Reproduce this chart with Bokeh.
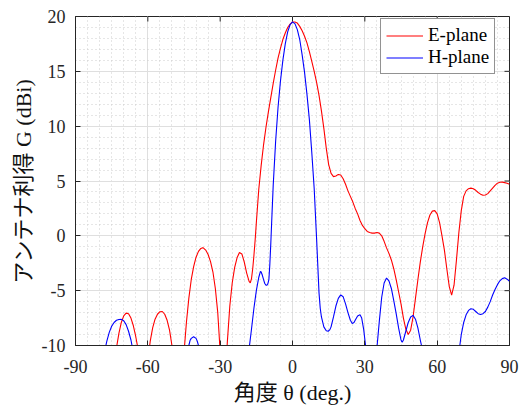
from math import pi
from bokeh.plotting import figure
from bokeh.models import ColumnDataSource, FixedTicker, Legend, LegendItem, Range1d
from bokeh.embed import file_html
from bokeh.resources import INLINE

# ---------------- data ----------------
E_ANGLE = [-90, -84, -78, -74, -73, -72, -71, -70, -69, -68, -67, -66, -65, -64, -63, -61,
           -59.8, -59, -58, -57, -56, -55, -54, -53, -52, -51, -50, -49, -47,
           -45.5, -44.5, -44, -43, -42, -41, -40, -39, -38, -37.3, -37, -36, -35, -34, -33,
           -32, -31, -30.3, -29.8, -28.5, -27.5, -27, -26, -25, -24, -23, -22, -21, -20,
           -19, -18, -17.5, -17, -16.5, -16, -15.5, -15, -14, -13, -12, -11, -10, -9, -8,
           -7, -6, -5, -4, -3, -2, -1, 0, 1, 2, 3, 4, 5, 6, 7, 8, 9, 10, 11, 12, 13, 14, 15,
           16, 17, 18, 19, 20, 21, 22, 23, 24, 25, 26, 27, 28, 29, 30, 31, 32, 33, 34, 35,
           36, 37, 38, 39, 40, 41, 42, 43, 44, 45, 46, 47, 48, 49, 50, 51, 52, 53, 54, 55,
           56, 57, 58, 59, 60, 61, 62, 63, 64, 65, 66, 67, 68, 69, 70, 71, 72, 73, 74, 75,
           76, 77, 78, 79, 80, 81, 82, 83, 84, 85, 86, 87, 88, 89, 90]
E_GAIN = [-22, -18, -14, -11.2, -10.2, -8.9, -7.9, -7.3, -7.05, -7.1, -7.5, -8.2, -9.2, -10.4,
          -12.5, -16,
          -11, -9.6, -8.4, -7.6, -7.15, -6.92, -6.9, -7.15, -7.7, -8.6, -10.0, -12.5, -17,
          -12, -9.3, -7.9, -5.7, -4.0, -2.8, -1.95, -1.42, -1.15, -1.09, -1.1, -1.3, -1.7,
          -2.35, -3.3, -4.8, -7.0, -9.5, -11.5, -17, -11.5, -9.6, -6.4, -4.3, -2.9, -2.0,
          -1.52, -1.65, -2.4, -3.4, -4.15, -4.28, -3.9, -3.0, -1.8, -0.4, 1.2, 4.2, 6.4,
          8.3, 9.9, 11.3, 12.6, 13.9, 15.1, 16.2, 17.1, 17.9, 18.5, 19.0, 19.3, 19.5, 19.5,
          19.4, 19.1, 18.7, 18.2, 17.6, 16.8, 15.9, 15.0, 14.0, 12.8, 11.4, 9.8, 8.0, 6.5,
          5.7, 5.4, 5.45, 5.6, 5.55, 5.2, 4.7, 4.1, 3.6, 3.1, 2.5, 2.0, 1.4, 0.95, 0.65,
          0.4, 0.3, 0.25, 0.25, 0.3, 0.25, 0.0, -0.5, -1.1, -1.6, -2.2, -3.0, -4.0, -5.1,
          -6.2, -7.5, -8.5, -9.0, -8.6, -7.4, -5.7, -4.0, -2.4, -1.0, 0.2, 1.2, 1.9, 2.25,
          2.3, 2.0, 1.2, 0.0, -1.3, -3.0, -4.6, -5.4, -4.5, -2.2, 0.3, 2.3, 3.6, 4.1, 4.3,
          4.35, 4.3, 4.15, 3.95, 3.8, 3.7, 3.72, 3.85, 4.1, 4.35, 4.6, 4.8, 4.88, 4.9, 4.85,
          4.8, 4.7]

H_ANGLE = [-90, -84, -80, -78, -77, -76, -75, -74, -73, -72, -71, -70, -69, -68, -67, -66.3,
           -65, -60, -54, -47, -44, -43, -42.5, -42, -41, -40, -39.5, -39, -38, -35, -28,
           -22, -19, -18, -17, -16, -15, -14, -13.3, -13, -12.5, -12, -11.5, -11, -10.6,
           -10.2, -9.8, -9.4, -9, -8.5, -8, -7, -6, -5, -4, -3, -2, -1, 0, 1, 2, 3, 4, 5,
           6, 7, 8, 9, 10, 11, 11.5, 12, 13, 14, 14.8, 15.5, 16, 17, 18, 19, 20, 21, 22, 23,
           24, 24.8, 25.5, 26, 27, 28, 28.7, 29.5, 30.3, 31, 33, 34.5, 35.1, 36, 37, 38, 39,
           40, 41, 42, 43, 44, 45, 45.5, 46, 47, 48, 49, 50, 51, 52, 53, 53.5, 55, 60, 66,
           69.4, 70, 71, 72, 73, 74, 75, 76, 77, 78, 79, 80, 81, 82, 83, 84, 85, 86, 87, 88,
           89, 90]
H_GAIN = [-25, -17, -12.5, -10.6, -9.6, -8.8, -8.25, -7.9, -7.7, -7.63, -7.62, -7.75, -8.1,
          -8.7, -9.5, -10.3, -12.5, -18, -22, -16, -11.2, -10.0, -9.55, -9.35, -9.2, -9.35,
          -9.6, -10.0, -11.3, -16, -22, -16, -11.5, -10.3, -8.5, -6.6, -5.0, -3.8, -3.25,
          -3.3, -3.6, -4.0, -4.35, -4.5, -4.5, -4.35, -4.0, -2.6, -0.7, 2.0, 4.6, 8.6, 11.7,
          14.1, 16.0, 17.5, 18.6, 19.25, 19.5, 19.35, 18.8, 17.9, 16.5, 14.9, 12.9, 10.6,
          7.6, 4.3, -0.3, -5.2, -6.6, -7.4, -8.3, -8.65, -8.7, -8.55, -8.3, -7.4, -6.4,
          -5.7, -5.38, -5.55, -6.2, -7.0, -7.7, -8.0, -7.9, -7.7, -7.3, -7.2, -7.5, -8.5,
          -10, -12, -16, -12, -10, -7.8, -5.6, -4.3, -3.85, -4.1, -4.8, -5.9, -7.1, -8.4,
          -9.5, -9.7, -9.5, -8.7, -7.9, -7.4, -7.25, -7.6, -8.4, -9.5, -10, -12.5, -18, -14,
          -10, -9.0, -7.9, -7.2, -6.8, -6.65, -6.7, -6.9, -7.1, -7.17, -7.1, -6.9, -6.5,
          -6.0, -5.4, -4.9, -4.45, -4.1, -3.9, -3.83, -3.95, -4.14]

X_TICKS = [-90, -60, -30, 0, 30, 60, 90]
X_MINOR = list(range(-90, 91, 5))
Y_TICKS = [-10, -5, 0, 5, 10, 15, 20]
Y_MINOR = list(range(-10, 21, 1))
SERIES_NAMES = ["E-plane", "H-plane"]
X_TITLE = "角度 θ (deg.)"
Y_TITLE = "アンテナ利得 G (dBi)"

X_MIN, X_MAX = X_TICKS[0], X_TICKS[-1]
Y_MIN, Y_MAX = Y_TICKS[0], Y_TICKS[-1]

# ---------------- figure ----------------
p = figure(width=520, height=408, output_backend="svg", toolbar_location=None,
           x_range=Range1d(X_MIN, X_MAX), y_range=Range1d(Y_MIN, Y_MAX),
           min_border_left=75, min_border_right=11, min_border_top=16, min_border_bottom=63)
p.background_fill_color = "white"
p.border_fill_color = "white"
p.outline_line_color = "#262626"
p.outline_line_width = 1

tick_col = "#262626"

# inward tick marks on the top and right edges of the box
p.ray(x=X_TICKS, y=[Y_MAX] * len(X_TICKS), length=5, length_units="screen",
      angle=-pi / 2, line_color=tick_col, line_width=1)
p.ray(x=[X_MAX] * len(Y_TICKS), y=Y_TICKS, length=5, length_units="screen",
      angle=pi, line_color=tick_col, line_width=1)

e_src = ColumnDataSource(dict(x=E_ANGLE, y=E_GAIN))
h_src = ColumnDataSource(dict(x=H_ANGLE, y=H_GAIN))
r_e = p.line("x", "y", source=e_src, line_color="#ff0000", line_width=1.1)
r_h = p.line("x", "y", source=h_src, line_color="#0000ff", line_width=1.1)

title_font = "Liberation Serif, Noto Sans CJK JP"
for ax, ticks, minor in ((p.xaxis[0], X_TICKS, X_MINOR), (p.yaxis[0], Y_TICKS, Y_MINOR)):
    ax.ticker = FixedTicker(ticks=ticks, minor_ticks=minor)
    ax.major_label_overrides = {t: str(t) for t in ticks}
    ax.major_tick_in = 5
    ax.major_tick_out = 0
    ax.minor_tick_in = 0
    ax.minor_tick_out = 0
    ax.axis_line_color = tick_col
    ax.major_tick_line_color = tick_col
    ax.major_label_text_font = "Liberation Serif"
    ax.major_label_text_font_size = "18px"
    ax.major_label_text_color = tick_col
    ax.axis_label_text_font = title_font
    ax.axis_label_text_font_size = "22px"
    ax.axis_label_text_font_style = "normal"
    ax.axis_label_text_color = "#111111"
p.xaxis.major_label_standoff = 14
p.yaxis.major_label_standoff = 10
p.xaxis.axis_label = X_TITLE
p.yaxis.axis_label = Y_TITLE
p.xaxis.axis_label_standoff = 4
p.yaxis.axis_label_standoff = 3

for g in (p.xgrid[0], p.ygrid[0]):
    g.grid_line_color = "#dfdfdf"
    g.grid_line_width = 1
    g.minor_grid_line_color = "#cdcdcd"
    g.minor_grid_line_dash = "1 3"
    g.minor_grid_line_width = 1
    g.level = "underlay"
p.xgrid[0].ticker = FixedTicker(ticks=X_TICKS, minor_ticks=X_MINOR)
p.ygrid[0].ticker = FixedTicker(ticks=Y_TICKS, minor_ticks=Y_MINOR)

legend = Legend(items=[LegendItem(label=SERIES_NAMES[0], renderers=[r_e]),
                       LegendItem(label=SERIES_NAMES[1], renderers=[r_h])],
                location=(305, 271), padding=5, spacing=0, margin=0,
                glyph_width=37, glyph_height=19, label_height=19, label_standoff=5,
                label_text_font="Liberation Serif", label_text_font_size="19px",
                label_text_color="#000000",
                border_line_color="#262626", border_line_width=1,
                background_fill_color="white", background_fill_alpha=1)
p.add_layout(legend, "center")

open("out.html", "w").write(file_html(p, INLINE))
